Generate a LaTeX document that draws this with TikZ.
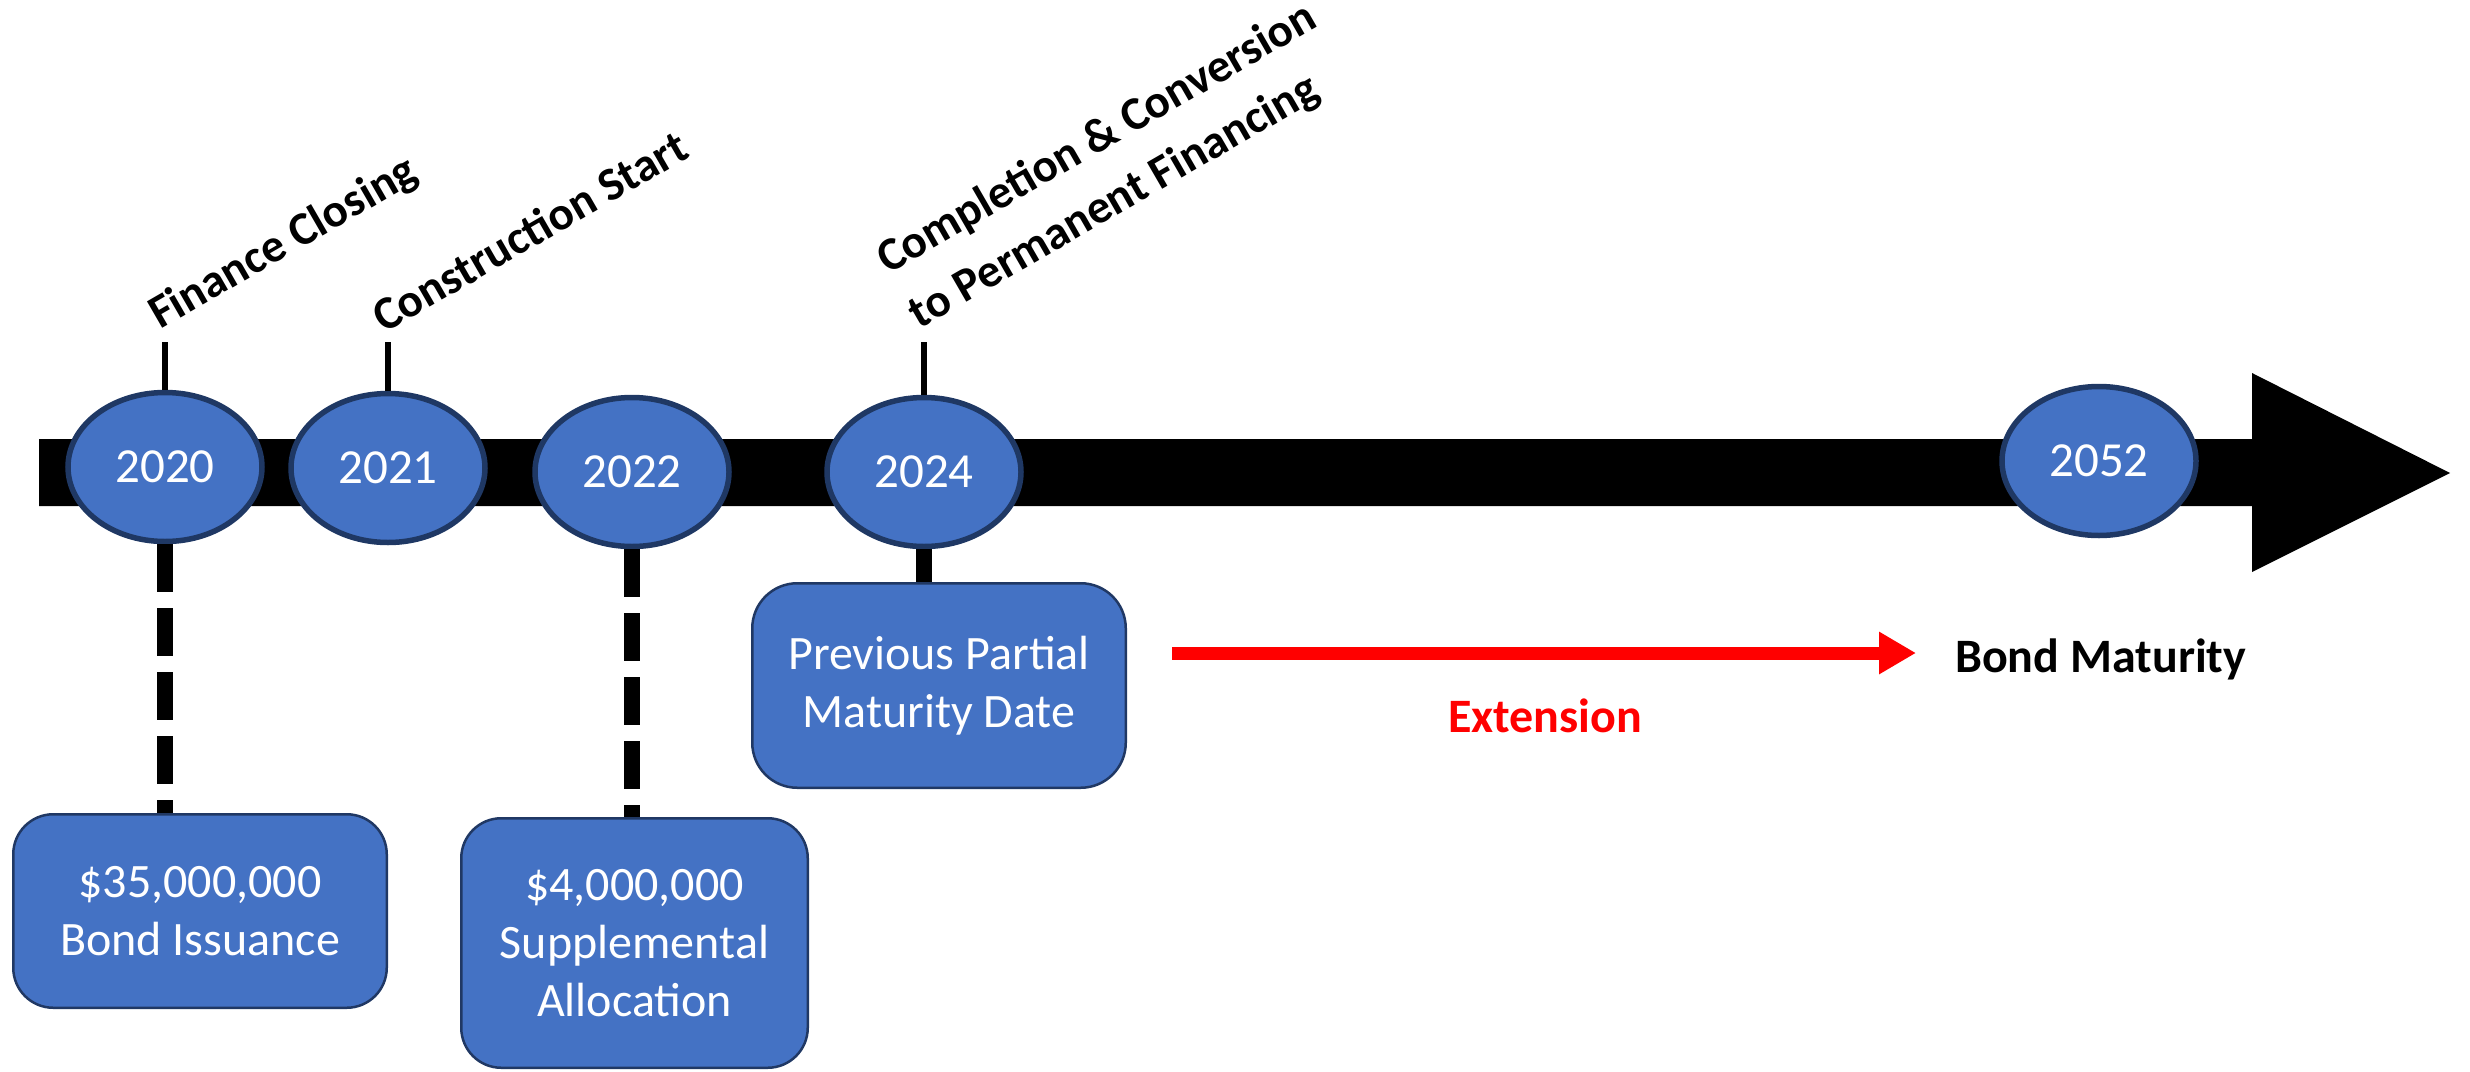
\documentclass[tikz,border=0pt]{standalone}
\usepackage{fontspec}
\setmainfont{Carlito}
\usetikzlibrary{shapes.geometric,arrows.meta}
\definecolor{fillblue}{HTML}{4472C4}
\definecolor{navy}{HTML}{1F3864}
\definecolor{boxedge}{HTML}{203864}
\definecolor{extred}{HTML}{FF0000}
\begin{document}
\begin{tikzpicture}[x=1pt,y=-1pt,
  year/.style={ellipse, fill=fillblue, draw=navy, line width=5.5pt,
    minimum width=194pt, minimum height=149pt, inner sep=0pt, text=white,
    font=\fontsize{49}{58}\selectfont},
  infobox/.style={rectangle, rounded corners=40pt, fill=fillblue, draw=boxedge,
    line width=2.5pt, text=white, align=center, inner sep=0pt,
    font=\fontsize{48}{58}\selectfont},
  milestone/.style={rotate=30, anchor=base west, inner sep=0pt,
    font=\bfseries\fontsize{47}{62}\selectfont},
  tickline/.style={line width=6.5pt},
  stemline/.style={line width=16pt},
  dashstem/.style={line width=16pt, dash pattern=on 48pt off 16pt},
  boldlabel/.style={inner sep=0pt, font=\bfseries\fontsize{48}{58}\selectfont},
]
\useasboundingbox (0,0) rectangle (2470,1071);
% main timeline arrow
\fill[black] (39,439) -- (2252,439) -- (2252,373) -- (2450,473) -- (2252,572)
  -- (2252,506) -- (39,506) -- cycle;

% boxes
\node[infobox, minimum width=373.5pt, minimum height=193.5pt] (b1) at (200,911)
  {\$35,000,000\\Bond Issuance};
\node[infobox, minimum width=346.5pt, minimum height=249.5pt] (b2) at (634.5,943)
  {\$4,000,000\\Supplemental\\Allocation};
\node[infobox, rounded corners=45pt, minimum width=373.5pt, minimum height=204.5pt] (b3) at (939,685.5)
  {Previous Partial\\Maturity Date};

% year ellipses
\node[year] (y2020) at (165,467) {2020};
\node[year] (y2021) at (388,468) {2021};
\node[year] (y2022) at (632,472) {2022};
\node[year] (y2024) at (924,472) {2024};
\node[year] (y2052) at (2099,461) {2052};

% stems to boxes
\draw[dashstem] (y2020.south) -- (y2020.south |- b1.north);
\draw[dashstem] (y2022.south) -- (y2022.south |- b2.north);
\draw[stemline] (y2024.south) -- (y2024.south |- b3.north);

% ticks above
\coordinate (t2020) at (165,342);
\coordinate (t2021) at (388,342);
\coordinate (t2024) at (924,342);
\draw[tickline] (y2020.north) -- (t2020);
\draw[tickline] (y2021.north) -- (t2021);
\draw[tickline] (y2024.north) -- (t2024);

% milestone labels
\node[milestone] (lfin) at (160,330) {Finance Closing};
\node[milestone] (lcon) at (384,334) {Construction Start};
\node[milestone] (lcom) at (888,275)
  {\vtop{\baselineskip=63pt\hbox{Completion \& Conversion}\hbox{to Permanent Financing}}};

% extension arrow
\coordinate (extA) at (1172,653);
\coordinate (extB) at (1916,653);
\draw[extred, line width=13pt, -{Triangle[length=37pt,width=40pt]}] (extA) -- (extB);
\node[boldlabel, anchor=west] (mat) at (1955,659) {Bond Maturity};
\node[boldlabel, text=extred] (ext) at (1545,716) {Extension};
\end{tikzpicture}
\end{document}
